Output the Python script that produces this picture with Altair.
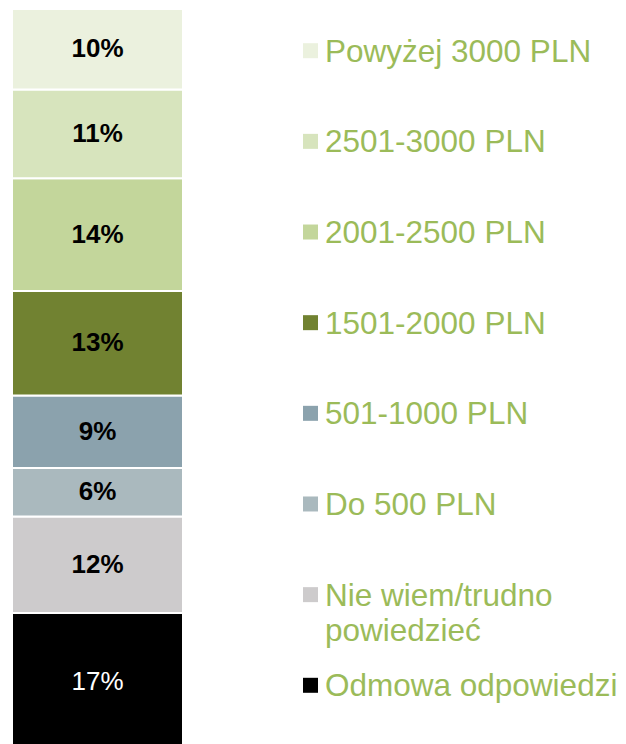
import altair as alt
import pandas as pd

categories = ["Odmowa odpowiedzi", "Nie wiem/trudno powiedzieć", "Do 500 PLN",
              "501-1000 PLN", "1501-2000 PLN", "2001-2500 PLN", "2501-3000 PLN",
              "Powyżej 3000 PLN"]
values = [17, 12, 6, 9, 13, 14, 11, 10]
colors = ["#000000", "#CDCBCC", "#AAB9BE", "#8BA2AD", "#718231", "#C3D69B",
          "#D7E4BD", "#EBF1DE"]
legend_labels = ["Odmowa odpowiedzi", "Nie wiem/trudno\npowiedzieć", "Do 500 PLN",
                 "501-1000 PLN", "1501-2000 PLN", "2001-2500 PLN", "2501-3000 PLN",
                 "Powyżej 3000 PLN"]

df = pd.DataFrame({
    "cat": categories,
    "value": values,
    "order": list(range(len(categories))),
    "grp": ["A"] * len(categories),
    "label": [f"{v}%" for v in values],
    "legend": legend_labels,
})

FONT = "Liberation Sans"
TOTAL = sum(values)

yscale = alt.Scale(domain=[0, TOTAL], nice=False, zero=True)
xenc = alt.X("grp:N", axis=None, scale=alt.Scale(paddingInner=0, paddingOuter=0))
color = alt.Color("cat:N", scale=alt.Scale(domain=categories, range=colors), legend=None)

base = alt.Chart(df)

bars = base.mark_bar(stroke="white", strokeWidth=2).encode(
    x=xenc,
    y=alt.Y("value:Q", stack="zero", scale=yscale, axis=None),
    color=color,
    order=alt.Order("order:Q", sort="ascending"),
)

labelled = base.transform_window(
    cum="sum(value)", sort=[alt.SortField("order", order="ascending")],
    frame=[None, 0]
).transform_calculate(mid="datum.cum - datum.value / 2")

text_dark = labelled.transform_filter("datum.order > 0").mark_text(
    font=FONT, fontSize=26, fontWeight="bold", color="black", baseline="middle"
).encode(x=xenc, y=alt.Y("mid:Q", scale=yscale, axis=None), text="label:N")

text_light = labelled.transform_filter("datum.order == 0").mark_text(
    font=FONT, fontSize=26, color="white", baseline="middle"
).encode(x=xenc, y=alt.Y("mid:Q", scale=yscale, axis=None), text="label:N")

left = alt.layer(bars, text_dark, text_light).properties(width=171, height=741)

ylegend = alt.Y("cat:N", axis=None,
                scale=alt.Scale(domain=categories[::-1], padding=0.46))

sym = base.mark_square(size=225, opacity=1).encode(
    x=alt.value(126.5), y=ylegend, color=color
)
ltext = base.mark_text(
    font=FONT, fontSize=31.5, color="#9BBB59", align="left", baseline="alphabetic",
    dy=11, lineBreak="\n", lineHeight=35
).encode(x=alt.value(141), y=ylegend, text="legend:N")

right = alt.layer(sym, ltext).properties(width=425, height=718)

chart = alt.hconcat(left, right, spacing=0).resolve_scale(y="independent").properties(
    padding={"left": 3, "top": 0, "right": 0, "bottom": 0}
).configure_view(stroke=None)

chart.save("out.html", embed_options={"renderer": "svg", "actions": False})
